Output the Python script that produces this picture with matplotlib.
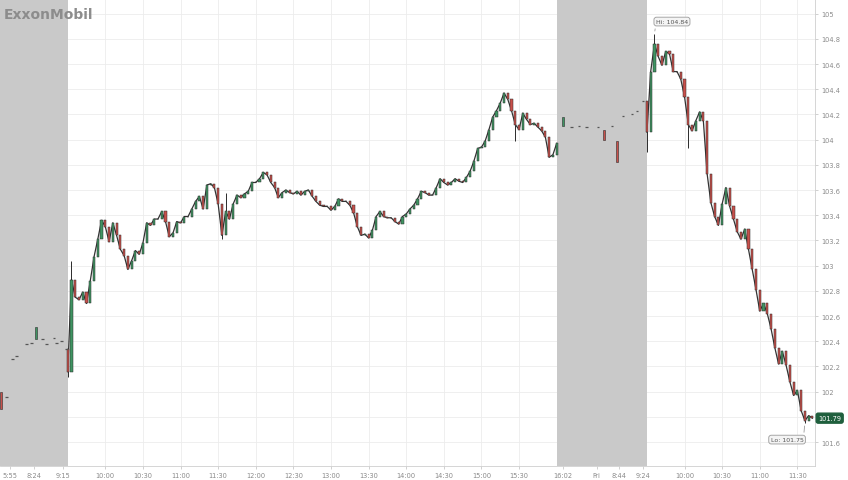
import matplotlib
import matplotlib.pyplot as plt
import numpy as np

# Use Agg backend for non-interactive plotting
matplotlib.use("Agg")

# x axis = minutes from Thu 09:30 open, with the overnight gap squeezed into a grey band
THU_START = 0
FRI_START = 462
BAR_MIN = 3

# Thu regular session, 3-minute closes
thu_open_first = 102.34
thu_close = [
    102.16, 102.89, 102.75, 102.73, 102.79, 102.70, 102.88, 103.07, 103.21, 103.36,
    103.31, 103.19, 103.34, 103.24, 103.13, 103.08, 102.97, 103.04, 103.12, 103.09,
    103.18, 103.34, 103.32, 103.37, 103.37, 103.43, 103.35, 103.23, 103.26, 103.35,
    103.34, 103.39, 103.39, 103.45, 103.51, 103.55, 103.45, 103.64, 103.65, 103.62,
    103.49, 103.24, 103.43, 103.37, 103.49, 103.56, 103.54, 103.57, 103.59, 103.66,
    103.66, 103.69, 103.74, 103.72, 103.66, 103.62, 103.54, 103.58, 103.60, 103.58,
    103.57, 103.59, 103.56, 103.59, 103.60, 103.55, 103.51, 103.48, 103.47, 103.47,
    103.44, 103.47, 103.53, 103.51, 103.51, 103.48, 103.42, 103.31, 103.24, 103.25,
    103.22, 103.28, 103.39, 103.43, 103.39, 103.38, 103.38, 103.35, 103.33, 103.39,
    103.41, 103.45, 103.48, 103.53, 103.59, 103.58, 103.56, 103.56, 103.62, 103.69,
    103.66, 103.64, 103.66, 103.69, 103.67, 103.66, 103.70, 103.75, 103.83, 103.93,
    103.94, 103.99, 104.08, 104.18, 104.23, 104.29, 104.37, 104.32, 104.23, 104.12,
    104.08, 104.21, 104.16, 104.12, 104.13, 104.10, 104.07, 104.02, 103.86, 103.88,
    103.97,
]

# Fri regular session, 3-minute closes
fri_open_first = 104.31
fri_close = [
    104.06, 104.54, 104.76, 104.66, 104.59, 104.70, 104.68, 104.54, 104.54, 104.48,
    104.34, 104.12, 104.07, 104.15, 104.22, 104.15, 103.73, 103.50, 103.39, 103.32,
    103.49, 103.62, 103.47, 103.37, 103.27, 103.21, 103.29, 103.13, 102.97, 102.81,
    102.64, 102.70, 102.62, 102.50, 102.35, 102.22, 102.32, 102.21, 102.08, 101.97,
    102.01, 101.85, 101.77, 101.81, 101.79,
]

# a few wicks that stick out
wick_time = [0, 3, 123, 126, 357, 462, 468, 495, 588]
wick_low = [102.12, 102.54, 103.21, 103.43, 103.99, 103.90, 104.66, 103.93, 101.75]
wick_high = [102.34, 103.04, 103.43, 103.58, 104.12, 104.31, 104.84, 104.12, 101.81]

# extended-hours trades (pre-market Thu, after-hours / pre-market Fri)
ext_time = [-53, -49, -44, -41, -33, -29, -25, -20, -17, -11, -9, -5, -1,
            395, 402, 408, 414, 423, 428, 434, 438, 443, 450, 454, 459]
ext_open = [102.00, 101.96, 102.26, 102.28, 102.38, 102.39, 102.42, 102.42, 102.38, 102.43,
            102.39, 102.40, 102.34,
            104.11, 104.10, 104.11, 104.10, 104.10, 104.08, 104.11, 103.99, 104.19, 104.20,
            104.23, 104.31]
ext_close = [101.86, 101.96, 102.26, 102.28, 102.38, 102.39, 102.51, 102.42, 102.38, 102.43,
             102.39, 102.40, 102.34,
             104.18, 104.10, 104.11, 104.10, 104.10, 104.00, 104.11, 103.82, 104.19, 104.20,
             104.23, 104.31]

hi_value, hi_time = 104.84, 468
lo_value, lo_time = 101.75, 588
last_value = 101.79

tick_pos = [-46, -27, -4, 30, 60, 90, 120, 150, 180, 210, 240, 270, 300, 330, 360,
            395, 422, 440, 459, 492, 522, 552, 582]
tick_text = ["5:55", "8:24", "9:15", "10:00", "10:30", "11:00", "11:30", "12:00", "12:30",
             "13:00", "13:30", "14:00", "14:30", "15:00", "15:30",
             "16:02", "Fri", "8:44", "9:24", "10:00", "10:30", "11:00", "11:30"]
price_ticks = np.round(np.arange(101.6, 105.01, 0.2), 1)

UP = "#3f9462"
DOWN = "#c9504b"
EDGE = "#2b2b2b"

fig = plt.figure(figsize=(8.48, 4.81), dpi=100)
ax = fig.add_axes([0.0, 0.029, 0.961, 0.971])

# grey bands for the closed market
ax.axvspan(-60, 0, color="#c9c9c9", zorder=1, lw=0)
ax.axvspan(390, FRI_START, color="#c9c9c9", zorder=1, lw=0)

# wicks first so the bodies sit on top
ax.vlines(wick_time, wick_low, wick_high, color=EDGE, lw=0.7, zorder=3)


def draw_session(start, first_open, closes):
    closes = np.array(closes)
    t = start + np.arange(len(closes)) * BAR_MIN
    opens = np.concatenate([[first_open], closes[:-1]])
    colors = [UP if c >= o else DOWN for o, c in zip(opens, closes)]
    ax.plot(t, closes, color="#333333", lw=0.9, zorder=2)
    ax.bar(t, closes - opens, bottom=opens, width=1.7, color=colors,
           edgecolor=EDGE, linewidth=0.35, zorder=4)


draw_session(THU_START, thu_open_first, thu_close)
draw_session(FRI_START, fri_open_first, fri_close)

# sparse extended-hours prints
e_t = np.array(ext_time)
e_o = np.array(ext_open)
e_c = np.array(ext_close)
moved = e_o != e_c
ax.bar(e_t[moved], (e_c - e_o)[moved], bottom=e_o[moved], width=1.6,
       color=[UP if c > o else DOWN for o, c in zip(e_o[moved], e_c[moved])],
       edgecolor=EDGE, linewidth=0.4, zorder=4)
ax.hlines(e_c[~moved], e_t[~moved] - 1.0, e_t[~moved] + 1.0, color="#555555", lw=0.9, zorder=4)

# hi / lo call-outs
box = dict(boxstyle="round,pad=0.3,rounding_size=0.4", fc="#f4f4f4", ec="#9a9a9a", lw=0.6)
ax.annotate(f"Hi: {hi_value:.2f}", xy=(hi_time, hi_value), xytext=(1, 7),
            textcoords="offset points", fontsize=4.5, color="#555555", bbox=box,
            ha="left", va="bottom", zorder=6,
            arrowprops=dict(arrowstyle="-", color="#9a9a9a", lw=0.6, relpos=(0, 0)))
ax.annotate(f"Lo: {lo_value:.2f}", xy=(lo_time, lo_value), xytext=(-1, -10),
            textcoords="offset points", fontsize=4.5, color="#555555", bbox=box,
            ha="right", va="top", zorder=6,
            arrowprops=dict(arrowstyle="-", color="#9a9a9a", lw=0.6, relpos=(1, 1)))

# last price tag on the axis (it takes the place of the 101.8 label)
ax.text(1.004, last_value, f"{last_value:.2f}", transform=ax.get_yaxis_transform(),
        fontsize=4.8, color="white", ha="left", va="center", zorder=7, clip_on=False,
        bbox=dict(boxstyle="round,pad=0.3,rounding_size=0.3", fc="#1f5f3d", ec="#1f5f3d"))

# axes cosmetics
ax.set_xlim(-54, 596)
ax.set_ylim(101.41, 105.116)
ax.set_xticks(tick_pos)
ax.set_xticklabels(tick_text)
ax.set_yticks(price_ticks)
ax.set_yticklabels(["" if abs(v - last_value) < 0.05 else f"{v:g}" for v in price_ticks])
ax.yaxis.tick_right()
ax.tick_params(axis="both", labelsize=4.8, labelcolor="#8a8a8a", color="#bdbdbd",
               length=2.5, width=0.5, pad=2)
ax.grid(True, color="#ececec", lw=0.6, zorder=0)
ax.set_axisbelow(True)
for side in ["top", "left"]:
    ax.spines[side].set_visible(False)
for side in ["right", "bottom"]:
    ax.spines[side].set_color("#cfcfcf")
    ax.spines[side].set_linewidth(0.6)

# company wordmark
fig.text(0.004, 0.968, "ExxonMobil", fontsize=10, fontweight="bold",
         color="#8c8c8c", ha="left", va="center")

fig.savefig("out.png", dpi=100)
plt.close(fig)
